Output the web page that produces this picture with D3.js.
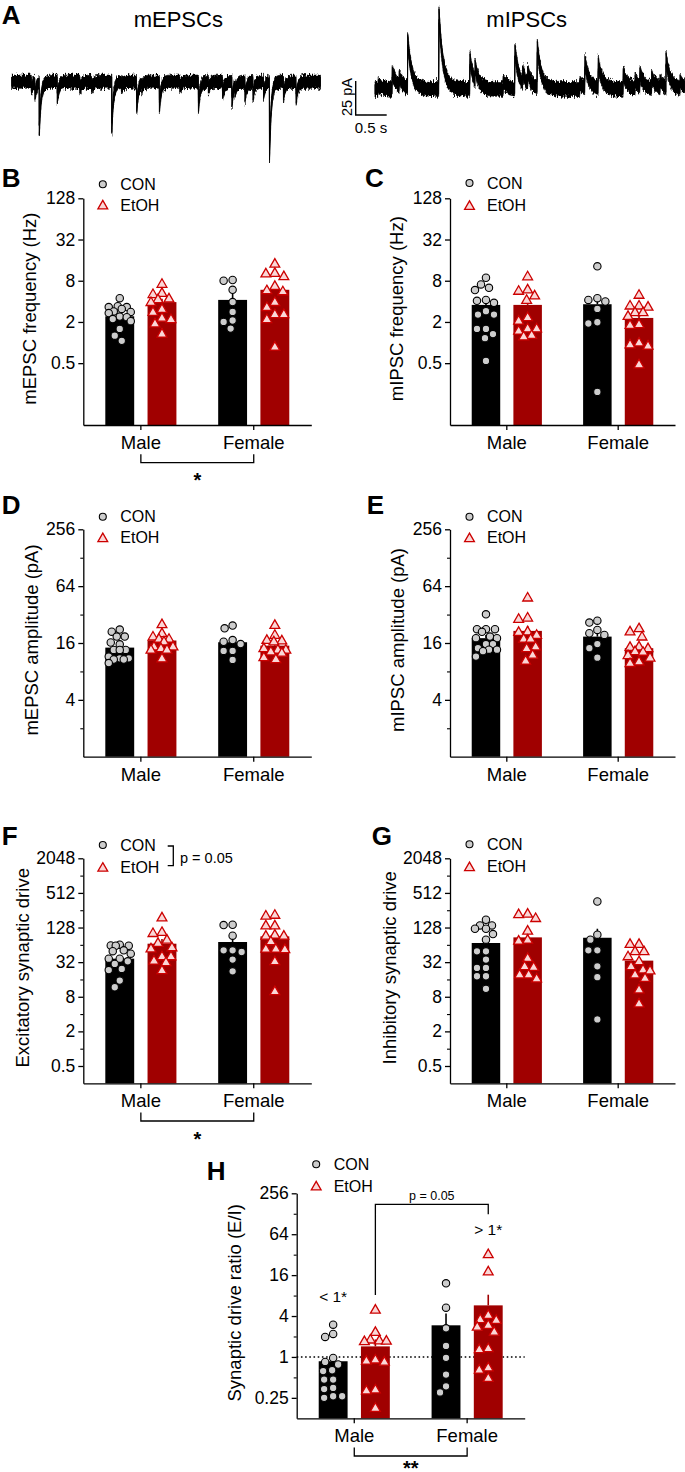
<!DOCTYPE html>
<html><head><meta charset="utf-8">
<script src="https://cdn.jsdelivr.net/npm/d3@7"></script>
<style>
body{margin:0;background:#fff}
svg{display:block;background:#fff}
text{font-family:"Liberation Sans",Arial,Helvetica,sans-serif;fill:#000}
</style></head><body>
<svg id="fig" width="685" height="1472"></svg>
<script>
// ---------------- DATA ----------------
const groups = ["Male", "Female"];
const treatments = ["CON", "EtOH"];

// Panel A traces: event times (s) and amplitudes (pA)
const epscTimes = [0.32, 0.376, 0.445, 0.735, 1.10, 1.29, 1.613, 1.77, 2.016, 2.097, 2.381, 2.71, 3.01, 3.17, 3.40, 3.55, 3.60, 3.76, 3.89, 4.06, 4.155, 4.38, 4.585];
const epscAmps  = [-5, -9, -35, -12, -5, -4, -34, -4, -18.6, -4, -18.6, -4, -18.6, -5, -9, -15, -5, -11, -10, -9, -54, -10, -12.5];
const ipscTimes = [0.053, 0.279, 0.392, 0.527, 1.032, 1.532, 1.613, 2.069, 2.258, 2.382, 2.463, 2.618, 3.306, 3.387, 3.602, 4.005, 4.194, 4.274, 4.463, 4.597, 4.694, 4.92];
const ipscAmps  = [3, 12.5, 7, 35, 55, 22, 11, 5.5, 28, 9, 9, 30, 4, 19, 18, 11, 5.5, 10, 8.5, 5, 21, 5.5];

// Panel B: mEPSC frequency (Hz)
const B_ticks = [0.5, 2, 8, 32, 128];
const B_CON_Male = [4.45, 3.4, 3.3, 3.3, 3.1, 2.85, 2.8, 2.7, 2.4, 2.35, 2.2, 2.05, 1.58, 1.26, 1.06];
const B_CON_Female = [8.2, 8.0, 5.9, 3.9, 2.8, 2.1, 2.0, 1.6];
const B_EtOH_Male = [7.2, 5.3, 5.1, 4.4, 4.3, 3.9, 3.1, 2.8, 2.3, 2.2, 1.9, 1.35];
const B_EtOH_Female = [14.2, 10.4, 10.2, 9.3, 6.7, 5.8, 5.6, 3.9, 3.3, 2.6, 2.6, 2.2, 0.87];
const B_mean_CON = [2.42, 4.2], B_mean_EtOH = [3.9, 5.9];
const B_sem_CON = [0.28, 0.95], B_sem_EtOH = [0.45, 1.05];

// Panel C: mIPSC frequency (Hz)
const C_ticks = [0.5, 2, 8, 32, 128];
const C_CON_Male = [8.85, 7.07, 6.3, 5.84, 4.2, 4.07, 3.8, 2.87, 2.56, 2.56, 1.58, 1.58, 1.33, 1.16, 0.54];
const C_CON_Female = [13, 4.45, 4.2, 3.98, 3.1, 1.98, 1.9, 0.19];
const C_EtOH_Male = [9.26, 5.97, 5.7, 4.87, 4.2, 2.34, 2.09, 1.61, 1.61, 1.49, 1.29, 1.23];
const C_EtOH_Female = [4.98, 3.47, 3.47, 3.34, 2.77, 2.77, 2.45, 1.85, 1.81, 1.0, 0.94, 0.9, 0.48];
const C_mean_CON = [3.55, 3.63], C_mean_EtOH = [3.55, 2.29];
const C_sem_CON = [0.6, 1.3], C_sem_EtOH = [0.75, 0.35];

// Panel D: mEPSC amplitude (pA)
const D_ticks = [4, 16, 64, 256];
const D_minor = [2, 8, 32, 128];
const D_CON_Male = [22.2, 21.1, 18.7, 18.7, 16.2, 15.5, 13.5, 13.5, 13.5, 11.5, 11.0, 11.0, 10.7, 10.7, 9.8];
const D_CON_Female = [24.5, 22.9, 17.2, 16.5, 15.6, 13.2, 13.2, 10.6];
const D_EtOH_Male = [25.3, 20.3, 18.7, 17.7, 17.7, 16.6, 14.7, 14.7, 14.1, 13.6, 13.6, 11.0];
const D_EtOH_Female = [24.8, 19.5, 17.2, 17.0, 16.6, 14.1, 13.6, 13.6, 13.0, 12.6, 11.3, 10.8];
const D_mean_CON = [14.3, 16.3], D_mean_EtOH = [17.0, 15.0];
const D_sem_CON = [1.0, 1.6], D_sem_EtOH = [1.2, 1.2];

// Panel E: mIPSC amplitude (pA)
const E_ticks = [4, 16, 64, 256];
const E_minor = [2, 8, 32, 128];
const E_CON_Male = [32.2, 22.4, 22.4, 22.4, 21, 18.7, 18.0, 18.0, 15.6, 15.6, 14.1, 13.6, 13.6, 13.1, 11.5];
const E_CON_Female = [27.6, 26.3, 22, 20.3, 19.5, 15.6, 14.1, 11.2];
const E_EtOH_Male = [48.4, 29.7, 28.8, 21.2, 20.9, 19.5, 17.7, 17.7, 14.7, 14.1, 12.0, 10.4];
const E_EtOH_Female = [22.9, 21.2, 18.7, 14.7, 14.5, 14.1, 13.1, 12.9, 11.9, 11.2, 10.2, 9.8];
const E_mean_CON = [18.0, 18.7], E_mean_EtOH = [21.5, 14.1];
const E_sem_CON = [1.4, 2.4], E_sem_EtOH = [2.8, 1.1];

// Panel F: Excitatory synaptic drive
const F_ticks = [0.5, 2, 8, 32, 128, 512, 2048];
const F_minor = [1, 4, 16, 64, 256, 1024];
const F_CON_Male = [64.4, 62.5, 61.7, 61.7, 51.4, 49.6, 45, 36.8, 36.8, 33.1, 29.8, 24.4, 23.3, 15.3, 11.7];
const F_CON_Female = [143, 141, 92.3, 51.4, 51.4, 48, 35.4, 22.2];
const F_EtOH_Male = [191.8, 106.8, 102.4, 78.7, 68.9, 57.9, 55.2, 40.4, 40.4, 34, 32, 23.1];
const F_EtOH_Female = [213, 206, 139, 139, 96, 92, 92, 73.6, 54.9, 54.9, 53.7, 33.1, 10];
const F_mean_CON = [36.8, 71.7], F_mean_EtOH = [67, 89.8];
const F_sem_CON = [4.3, 18], F_sem_EtOH = [13.5, 16];

// Panel G: Inhibitory synaptic drive
const G_ticks = [0.5, 2, 8, 32, 128, 512, 2048];
const G_minor = [1, 4, 16, 64, 256, 1024];
const G_CON_Male = [174.7, 139.4, 139.4, 122, 122, 98.6, 78.7, 49.4, 49.4, 35.4, 25.4, 25.4, 18.2, 18.2, 11];
const G_CON_Female = [363, 96, 78.7, 51.4, 51.4, 27.1, 17.5, 3.23];
const G_EtOH_Male = [222, 218, 187, 112.7, 78.7, 75.6, 37.8, 27.1, 26.3, 19.5, 19.5, 16.6];
const G_EtOH_Female = [66.2, 66.2, 49.4, 49.4, 40.4, 33.1, 27.1, 23.8, 22.9, 19.5, 17, 10.7, 6.1];
const G_mean_CON = [68.9, 85], G_mean_EtOH = [86.3, 34];
const G_sem_CON = [12, 37], G_sem_EtOH = [22, 5.5];

// Panel H: Synaptic drive ratio (E/I)
const H_ticks = [0.25, 1, 4, 16, 64, 256];
const H_minor = [0.5, 2, 8, 32, 128];
const H_CON_Male = [2.98, 2.18, 1.97, 0.967, 0.845, 0.774, 0.637, 0.62, 0.465, 0.465, 0.35, 0.337, 0.264, 0.264, 0.25];
const H_CON_Female = [12.1, 5.3, 2.64, 1.45, 0.97, 0.55, 0.37, 0.30];
const H_EtOH_Male = [4.96, 2.33, 1.8, 1.75, 1.73, 1.7, 0.914, 0.88, 0.85, 0.331, 0.32, 0.178];
const H_EtOH_Female = [32.5, 18.1, 4.14, 3.58, 3.5, 2.95, 2.78, 2.35, 1.34, 1.3, 0.70, 0.65, 0.49];
const H_mean_CON = [0.864, 2.92], H_mean_EtOH = [1.43, 5.74];
const H_sem_CON = [0.2, 1.43], H_sem_EtOH = [0.38, 2.5];

// ---------------- STYLE ----------------
const CON_BAR = "#000000", ETOH_BAR = "#a00000";
const CIRC_FILL = "#cdcdcd", TRI_STROKE = "#cc0000", TRI_FILL = "#fad7d7";
const svg = d3.select("#fig");
svg.append("rect").attr("width", 685).attr("height", 1472).attr("fill", "#fff");

// rendering texture for the recorded traces (styling only)
const defs = svg.append("defs");
const flt = defs.append("filter").attr("id", "noisy").attr("x", "-2%").attr("y", "-40%").attr("width", "104%").attr("height", "180%");
flt.append("feTurbulence").attr("type", "fractalNoise").attr("baseFrequency", "1.1 0.25").attr("numOctaves", 2).attr("seed", 7).attr("result", "n");
flt.append("feColorMatrix").attr("in", "n").attr("type", "matrix")
  .attr("values", "0 0 0 0 0.5  0 1 0 0 0  0 0 0 0 0.5  0 0 0 0 1").attr("result", "n2");
flt.append("feDisplacementMap").attr("in", "SourceGraphic").attr("in2", "n2").attr("scale", 9)
  .attr("xChannelSelector", "R").attr("yChannelSelector", "G");

function triPath(s) {
  const h = s * 0.87;
  return `M0,${-h * 0.6}L${s / 2},${h * 0.4}L${-s / 2},${h * 0.4}Z`;
}

function swarm(vals, y, cx, minDist, maxOff) {
  const order = vals.map(v => ({ v, py: y(v) })).sort((a, b) => a.py - b.py);
  const placed = [];
  order.forEach(p => {
    let best = 0, bestScore = -1;
    for (let k = 0; k <= maxOff * 2; k++) {
      const off = (k % 2 === 1 ? -1 : 1) * Math.ceil(k / 2);
      const md = placed.length ? d3.min(placed, q => Math.hypot(q.x - off, q.py - p.py)) : Infinity;
      if (md >= minDist) { best = off; bestScore = Infinity; break; }
      if (md > bestScore) { bestScore = md; best = off; }
    }
    p.x = best; placed.push(p);
  });
  return order.map(p => ({ x: cx + p.x, y: p.py }));
}

function letter(txt, x, y) {
  svg.append("text").attr("x", x).attr("y", y).text(txt)
    .style("font-size", "26px").style("font-weight", "bold");
}

function drawPanel(c) {
  const g = svg.append("g");
  const y = d3.scaleLog().base(2).domain(c.domain).range([c.bottom, c.top]);
  const x0 = d3.scaleBand().domain(groups).range([c.ax, c.ax + c.width]).paddingInner(0.37).paddingOuter(0.195);
  const x1 = d3.scaleBand().domain(treatments).range([0, x0.bandwidth()]).paddingInner(0.316);
  const cx = (gr, t) => x0(gr) + x1(t) + x1.bandwidth() / 2;
  const gc = gr => x0(gr) + x0.bandwidth() / 2;

  if (c.ref) {
    g.append("line").attr("x1", c.ax).attr("x2", c.ax + c.width)
      .attr("y1", y(c.ref)).attr("y2", y(c.ref))
      .attr("stroke", "#000").attr("stroke-width", 1.6).attr("stroke-dasharray", "1.6,2.6");
  }

  treatments.forEach(t => groups.forEach((gr, gi) => {
    const m = c.means[t][gi], s = c.sems[t][gi];
    const col = t === "CON" ? CON_BAR : ETOH_BAR;
    g.append("rect").attr("x", x0(gr) + x1(t)).attr("y", y(m))
      .attr("width", x1.bandwidth()).attr("height", c.bottom - y(m)).attr("fill", col);
    g.append("line").attr("x1", cx(gr, t)).attr("x2", cx(gr, t))
      .attr("y1", y(m)).attr("y2", y(m + s)).attr("stroke", col).attr("stroke-width", 1.6);
  }));

  treatments.forEach(t => groups.forEach((gr, gi) => {
    const pts = swarm(c.pts[t][gi], y, cx(gr, t), t === "CON" ? 8.2 : 8.8, 11);
    if (t === "CON") {
      g.selectAll(null).data(pts).enter().append("circle")
        .attr("cx", d => d.x).attr("cy", d => d.y).attr("r", 3.7)
        .attr("fill", CIRC_FILL).attr("stroke", "#000").attr("stroke-width", 1.1);
    } else {
      g.selectAll(null).data(pts).enter().append("path")
        .attr("d", triPath(9.8)).attr("transform", d => `translate(${d.x},${d.y})`)
        .attr("fill", TRI_FILL).attr("stroke", TRI_STROKE).attr("stroke-width", 1.3);
    }
  }));

  // y axis
  const ya = g.append("g").attr("transform", `translate(${c.ax},0)`)
    .call(d3.axisLeft(y).tickValues(c.ticks).tickFormat(d => String(d)).tickSize(5).tickSizeOuter(0).tickPadding(3));
  ya.attr("font-family", null).attr("font-size", null);
  ya.selectAll("text").style("font-size", "17.5px");
  ya.selectAll("line,path").attr("stroke-width", 1.3);
  if (c.minor) {
    const ym = g.append("g").attr("transform", `translate(${c.ax},0)`)
      .call(d3.axisLeft(y).tickValues(c.minor).tickFormat("").tickSize(3).tickSizeOuter(0));
    ym.select(".domain").remove();
    ym.selectAll("line").attr("stroke-width", 1.1);
  }
  // x axis
  const xa = g.append("g").attr("transform", `translate(0,${c.bottom})`)
    .call(d3.axisBottom(x0).tickSize(5).tickSizeOuter(0));
  xa.attr("font-family", null).attr("font-size", null);
  xa.selectAll("text").attr("y", 17.5).attr("dy", "0.35em").style("font-size", "18.5px");
  xa.selectAll("line,path").attr("stroke-width", 1.3);

  // y label
  g.append("text")
    .attr("transform", `translate(${c.ax - c.labelOff},${(c.top + c.bottom) / 2 - 3}) rotate(-90)`)
    .attr("text-anchor", "middle").attr("dy", "0.32em").style("font-size", "18.5px").text(c.label);

  // legend
  const lx = c.ax + 19.5;
  g.append("circle").attr("cx", lx).attr("cy", c.leg[0]).attr("r", 3.5)
    .attr("fill", CIRC_FILL).attr("stroke", "#000").attr("stroke-width", 1.1);
  g.append("path").attr("d", triPath(9.8)).attr("transform", `translate(${lx},${c.leg[1] + 0.5})`)
    .attr("fill", TRI_FILL).attr("stroke", TRI_STROKE).attr("stroke-width", 1.3);
  g.append("text").attr("x", lx + 17.5).attr("y", c.leg[0]).attr("dy", "0.36em").style("font-size", "16px").text("CON");
  g.append("text").attr("x", lx + 17.5).attr("y", c.leg[1]).attr("dy", "0.36em").style("font-size", "16px").text("EtOH");

  // sex-effect bracket
  if (c.sexStar) {
    const by = c.bottom + 37.7;
    g.append("path")
      .attr("d", `M${gc("Male")},${by - 8.4}V${by}H${gc("Female")}V${by - 8.4}`)
      .attr("fill", "none").attr("stroke", "#000").attr("stroke-width", 1.3);
    g.append("text").attr("x", (gc("Male") + gc("Female")) / 2).attr("y", by + (c.starGap || 12.3))
      .attr("text-anchor", "middle").attr("dy", "0.62em").style("font-size", "20px").style("font-weight", "bold")
      .text(c.sexStar);
  }
  return { g, y, x0, x1, cx, gc };
}

const W = 228;
drawPanel({ ax: 83.3, top: 198.3, bottom: 425, width: W, domain: [1 / 16, 128], ticks: B_ticks,
  label: "mEPSC frequency (Hz)", labelOff: 53.3, leg: [184.3, 205],
  pts: { CON: [B_CON_Male, B_CON_Female], EtOH: [B_EtOH_Male, B_EtOH_Female] },
  means: { CON: B_mean_CON, EtOH: B_mean_EtOH }, sems: { CON: B_sem_CON, EtOH: B_sem_EtOH }, sexStar: "*" });
drawPanel({ ax: 450, top: 198.3, bottom: 425, width: W - 3, domain: [1 / 16, 128], ticks: C_ticks,
  label: "mIPSC frequency (Hz)", labelOff: 53.3, leg: [183, 205.5],
  pts: { CON: [C_CON_Male, C_CON_Female], EtOH: [C_EtOH_Male, C_EtOH_Female] },
  means: { CON: C_mean_CON, EtOH: C_mean_EtOH }, sems: { CON: C_sem_CON, EtOH: C_sem_EtOH } });
drawPanel({ ax: 83.3, top: 529.3, bottom: 756.7, width: W, domain: [1, 256], ticks: D_ticks, minor: D_minor,
  label: "mEPSC amplitude (pA)", labelOff: 51.6, leg: [516.7, 537.7],
  pts: { CON: [D_CON_Male, D_CON_Female], EtOH: [D_EtOH_Male, D_EtOH_Female] },
  means: { CON: D_mean_CON, EtOH: D_mean_EtOH }, sems: { CON: D_sem_CON, EtOH: D_sem_EtOH } });
drawPanel({ ax: 450, top: 529.3, bottom: 756.7, width: W - 3, domain: [1, 256], ticks: E_ticks, minor: E_minor,
  label: "mIPSC amplitude (pA)", labelOff: 51.7, leg: [516.7, 537.7],
  pts: { CON: [E_CON_Male, E_CON_Female], EtOH: [E_EtOH_Male, E_EtOH_Female] },
  means: { CON: E_mean_CON, EtOH: E_mean_EtOH }, sems: { CON: E_sem_CON, EtOH: E_sem_EtOH } });
drawPanel({ ax: 83.3, top: 858.3, bottom: 1083.3, width: W, domain: [0.25, 2048], ticks: F_ticks, minor: F_minor,
  label: "Excitatory synaptic drive", labelOff: 60, leg: [845, 867.3],
  pts: { CON: [F_CON_Male, F_CON_Female], EtOH: [F_EtOH_Male, F_EtOH_Female] },
  means: { CON: F_mean_CON, EtOH: F_mean_EtOH }, sems: { CON: F_sem_CON, EtOH: F_sem_EtOH }, sexStar: "*" });
drawPanel({ ax: 450, top: 858.3, bottom: 1083.3, width: W - 3, domain: [0.25, 2048], ticks: G_ticks, minor: G_minor,
  label: "Inhibitory synaptic drive", labelOff: 60, leg: [844.3, 866.7],
  pts: { CON: [G_CON_Male, G_CON_Female], EtOH: [G_EtOH_Male, G_EtOH_Female] },
  means: { CON: G_mean_CON, EtOH: G_mean_EtOH }, sems: { CON: G_sem_CON, EtOH: G_sem_EtOH } });
const H = drawPanel({ ax: 296.7, top: 1193.3, bottom: 1418.3, width: W, domain: [0.125, 256], ticks: H_ticks, minor: H_minor,
  label: "Synaptic drive ratio (E/I)", labelOff: 61.7, leg: [1164.3, 1186], ref: 1,
  pts: { CON: [H_CON_Male, H_CON_Female], EtOH: [H_EtOH_Male, H_EtOH_Female] },
  means: { CON: H_mean_CON, EtOH: H_mean_EtOH }, sems: { CON: H_sem_CON, EtOH: H_sem_EtOH },
  sexStar: "**", starGap: 7 });

// F legend bracket
svg.append("path").attr("d", `M167.7,846H173.3V865.7H167.7`).attr("fill", "none")
  .attr("stroke", "#000").attr("stroke-width", 1.3);
svg.append("text").attr("x", 180).attr("y", 857.3).attr("dy", "0.36em").style("font-size", "14.5px").text("p = 0.05");

// H annotations
{
  const xl = H.cx("Male", "EtOH"), xr = H.cx("Female", "EtOH");
  const t = 1193.3;
  H.g.append("path").attr("d", `M${xl},${t + 101.7}V${t + 11}H${xr}V${t + 21}`)
    .attr("fill", "none").attr("stroke", "#000").attr("stroke-width", 1.3);
  H.g.append("text").attr("x", (xl + xr) / 2).attr("y", t + 1.7).attr("dy", "0.36em")
    .attr("text-anchor", "middle").style("font-size", "12.5px").text("p = 0.05");
  H.g.append("text").attr("x", H.cx("Male", "CON")).attr("y", t + 103.4).attr("dy", "0.36em")
    .attr("text-anchor", "middle").style("font-size", "15.5px").text("< 1*");
  H.g.append("text").attr("x", xr).attr("y", t + 35.7).attr("dy", "0.36em")
    .attr("text-anchor", "middle").style("font-size", "15.5px").text("> 1*");
}

// ---------------- Panel A traces ----------------
function traceSamples(times, amps, T, decay, rise) {
  const ts = d3.range(0, T, 1 / 124);
  times.forEach(t => { ts.push(t - rise, t); });
  ts.sort((a, b) => a - b);
  return ts.filter(t => t >= 0 && t <= T).map(t => ({
    t, v: d3.sum(times, (ti, i) => t >= ti ? amps[i] * Math.exp(-(t - ti) / decay) : 0)
  }));
}
const xE = d3.scaleLinear().domain([0, 4.98]).range([11.7, 320.7]);
const yE = d3.scaleLinear().domain([0, -25]).range([81.7, 115.7]);
const xI = d3.scaleLinear().domain([0, 5.0]).range([375, 685]);
const yI = d3.scaleLinear().domain([0, 25]).range([89, 55]);

function drawTrace(samples, xs, ys, hCore, hOuter) {
  const core = d3.area().x(d => xs(d.t)).y0(d => ys(d.v) - hCore).y1(d => ys(d.v) + hCore);
  const outer = d3.area().x(d => xs(d.t)).y0(d => ys(d.v) - hOuter).y1(d => ys(d.v) + hOuter);
  svg.append("path").datum(samples).attr("d", outer)
    .attr("fill", "#000").attr("stroke", "#000").attr("stroke-width", 0.7).attr("filter", "url(#noisy)");
  svg.append("path").datum(samples).attr("d", core)
    .attr("fill", "#000").attr("stroke", "#000").attr("stroke-width", 0.8);
}
drawTrace(traceSamples(epscTimes, epscAmps, 4.98, 0.028, 0.006), xE, yE, 4.6, 6.6);
drawTrace(traceSamples(ipscTimes, ipscAmps, 5.0, 0.065, 0.006), xI, yI, 5.2, 7.4);

// scale bar (25 pA, 0.5 s)
const sbx = 355.7, sby = 115;
svg.append("path")
  .attr("d", `M${sbx},${sby - (yI(0) - yI(25))}V${sby}H${sbx + (xI(0.5) - xI(0))}`)
  .attr("fill", "none").attr("stroke", "#000").attr("stroke-width", 1.4);
svg.append("text").attr("transform", `translate(346.7,97) rotate(-90)`).attr("text-anchor", "middle")
  .attr("dy", "0.36em").style("font-size", "14.5px").text("25 pA");
svg.append("text").attr("x", 371).attr("y", 127.7).attr("dy", "0.36em").attr("text-anchor", "middle")
  .style("font-size", "15px").text("0.5 s");

svg.append("text").attr("x", 178.3).attr("y", 26.5).attr("text-anchor", "middle").style("font-size", "22px").text("mEPSCs");
svg.append("text").attr("x", 526.7).attr("y", 26.5).attr("text-anchor", "middle").style("font-size", "22px").text("mIPSCs");

letter("A", 1.7, 24);
letter("B", 1.7, 186.7);
letter("C", 365, 186.7);
letter("D", 1.7, 514);
letter("E", 366.7, 514);
letter("F", 1.7, 845);
letter("G", 371.7, 845);
letter("H", 206.7, 1180);
</script>
</body></html>
